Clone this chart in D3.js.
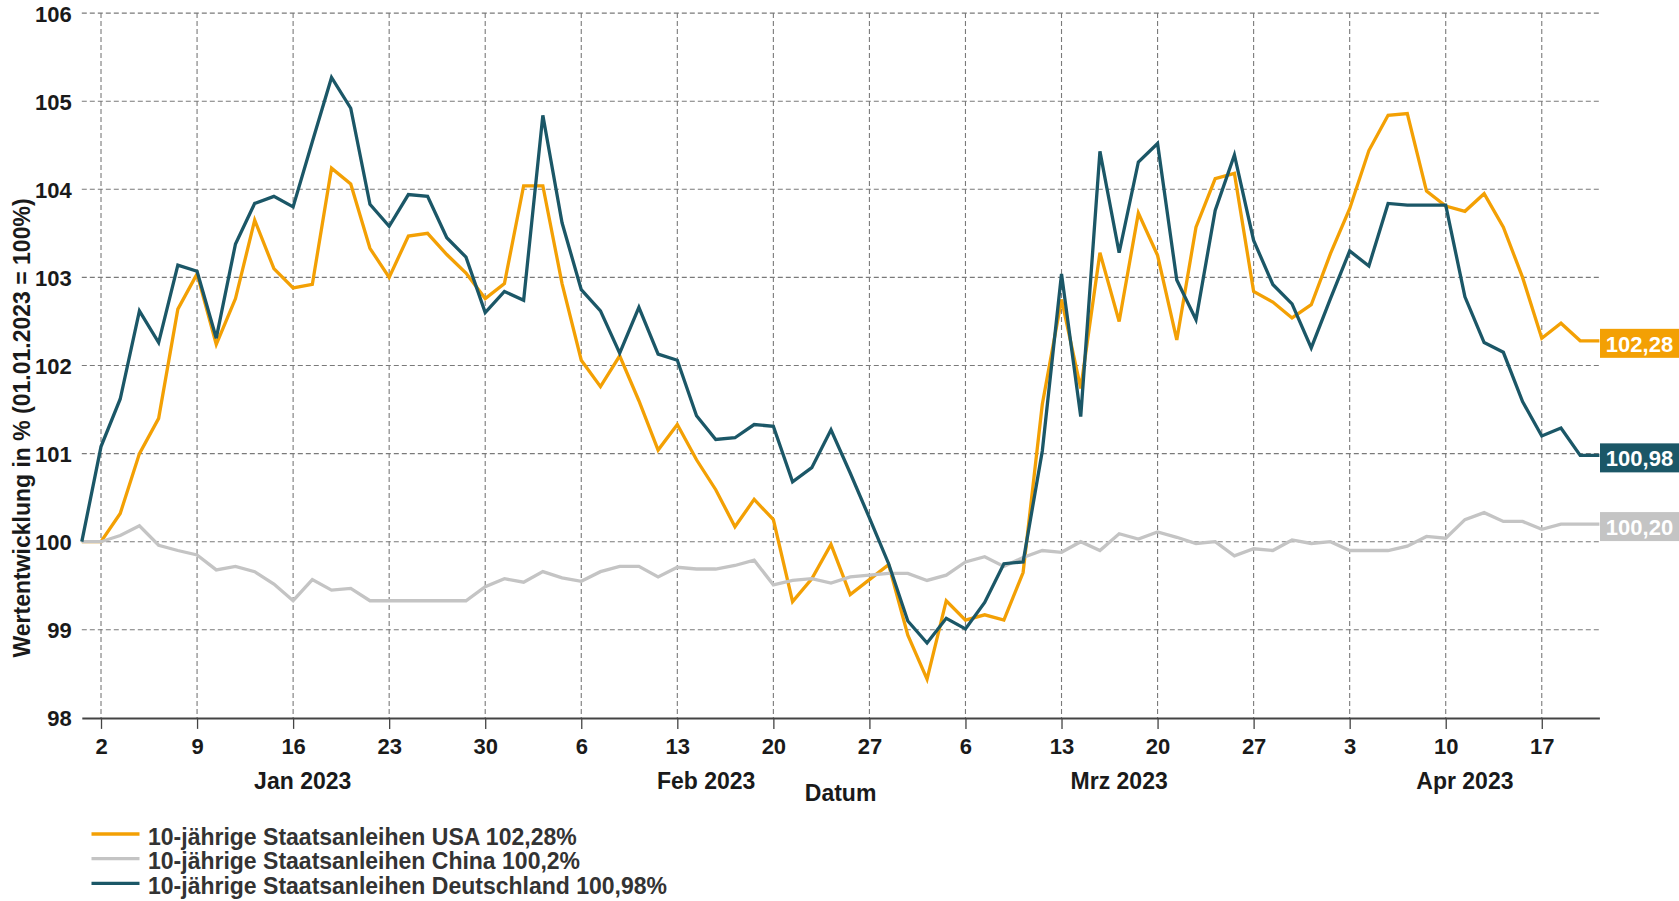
<!DOCTYPE html>
<html><head><meta charset="utf-8">
<script src="https://cdn.jsdelivr.net/npm/d3@7/dist/d3.min.js"></script>
<style>
body{margin:0;background:#fff}
svg{display:block}
text{font-family:"Liberation Sans",Arial,sans-serif;font-weight:bold}
</style>
</head><body>
<svg id="chart" width="1679" height="901"></svg>
<script>
// ---- data ----
const dates = [
"2022-12-30",
"2023-01-02","2023-01-03","2023-01-04","2023-01-05","2023-01-06",
"2023-01-09","2023-01-10","2023-01-11","2023-01-12","2023-01-13",
"2023-01-16","2023-01-17","2023-01-18","2023-01-19","2023-01-20",
"2023-01-23","2023-01-24","2023-01-25","2023-01-26","2023-01-27",
"2023-01-30","2023-01-31","2023-02-01","2023-02-02","2023-02-03",
"2023-02-06","2023-02-07","2023-02-08","2023-02-09","2023-02-10",
"2023-02-13","2023-02-14","2023-02-15","2023-02-16","2023-02-17",
"2023-02-20","2023-02-21","2023-02-22","2023-02-23","2023-02-24",
"2023-02-27","2023-02-28","2023-03-01","2023-03-02","2023-03-03",
"2023-03-06","2023-03-07","2023-03-08","2023-03-09","2023-03-10",
"2023-03-13","2023-03-14","2023-03-15","2023-03-16","2023-03-17",
"2023-03-20","2023-03-21","2023-03-22","2023-03-23","2023-03-24",
"2023-03-27","2023-03-28","2023-03-29","2023-03-30","2023-03-31",
"2023-04-03","2023-04-04","2023-04-05","2023-04-06","2023-04-07",
"2023-04-10","2023-04-11","2023-04-12","2023-04-13","2023-04-14",
"2023-04-17","2023-04-18","2023-04-19","2023-04-20"
];
const usa = [
100.00,
100.00,100.32,101.00,101.40,102.64,
103.04,102.24,102.76,103.65,103.10,
102.88,102.92,104.24,104.06,103.33,
103.00,103.47,103.50,103.26,103.05,
102.76,102.93,104.04,104.04,102.93,
102.06,101.76,102.11,101.60,101.04,
101.33,100.93,100.59,100.17,100.48,
100.25,99.32,99.58,99.97,99.40,
99.57,99.74,98.94,98.44,99.33,
99.11,99.17,99.11,99.65,101.56,
102.75,101.74,103.28,102.50,103.73,
103.25,102.29,103.57,104.12,104.18,
102.84,102.72,102.54,102.69,103.27,
103.78,104.44,104.84,104.86,103.98,
103.81,103.75,103.95,103.57,103.00,
102.31,102.48,102.28,102.28
];
const china = [
100.00,
100.00,100.07,100.18,99.96,99.90,
99.85,99.68,99.72,99.66,99.52,
99.33,99.57,99.45,99.47,99.33,
99.33,99.33,99.33,99.33,99.33,
99.49,99.58,99.54,99.66,99.59,
99.55,99.66,99.72,99.72,99.60,
99.71,99.69,99.69,99.73,99.79,
99.51,99.56,99.58,99.53,99.60,
99.62,99.64,99.64,99.56,99.62,
99.77,99.83,99.72,99.82,99.90,
99.88,100.00,99.90,100.09,100.03,
100.11,100.05,99.98,100.00,99.84,
99.92,99.90,100.02,99.98,100.00,
99.90,99.90,99.90,99.95,100.06,
100.04,100.25,100.33,100.23,100.23,
100.14,100.20,100.20,100.20
];
const germany = [
100.00,
101.08,101.62,102.62,102.26,103.14,
103.07,102.31,103.38,103.84,103.92,
103.80,104.54,105.27,104.92,103.83,
103.58,103.94,103.92,103.45,103.23,
102.60,102.84,102.74,104.84,103.62,
102.86,102.62,102.14,102.66,102.13,
102.06,101.43,101.16,101.18,101.33,
101.31,100.68,100.84,101.27,100.78,
100.27,99.75,99.10,98.85,99.13,
99.01,99.31,99.75,99.77,101.03,
103.04,101.42,104.43,103.28,104.31,
104.52,102.97,102.52,103.76,104.39,
103.42,102.92,102.70,102.20,102.76,
103.30,103.13,103.84,103.82,103.82,
103.82,102.78,102.26,102.15,101.59,
101.20,101.29,100.98,100.98
];
const seriesNames = [
"10-jährige Staatsanleihen USA 102,28%",
"10-jährige Staatsanleihen China 100,2%",
"10-jährige Staatsanleihen Deutschland 100,98%"
];
const endLabels = ["102,28","100,20","100,98"];
const seriesColors = ["#F3A004","#C4C4C4","#1B5767"];
const yTicks = [98,99,100,101,102,103,104,105,106];
// month label, centred between two data dates
const monthLabels = [
  ["Jan 2023","2023-01-16","2023-01-17"],
  ["Feb 2023","2023-02-14","2023-02-15"],
  ["Mrz 2023","2023-03-16","2023-03-16"],
  ["Apr 2023","2023-04-11","2023-04-11"]
];
const yTitle = "Wertentwicklung in % (01.01.2023 = 100%)";
const xTitle = "Datum";

// ---- layout ----
const svg = d3.select("#chart");
svg.append("rect").attr("width",1679).attr("height",901).attr("fill","#fff");
const x = d3.scalePoint().domain(dates).range([81.8, 1599.4]);
const y = d3.scaleLinear().domain([98,106]).range([717.9, 13.1]);
const parse = d3.timeParse("%Y-%m-%d");
const mondays = dates.filter(d => parse(d).getDay() === 1);

// grid
const grid = svg.append("g").attr("stroke","#7a7a7a").attr("stroke-width",1.1).attr("stroke-dasharray","5,3");
grid.selectAll("line.h").data(yTicks.filter(v=>v!==98)).join("line")
  .attr("x1",x.range()[0]).attr("x2",x.range()[1]).attr("y1",d=>y(d)).attr("y2",d=>y(d));
grid.selectAll("line.v").data(mondays).join("line").attr("class","v")
  .attr("x1",d=>x(d)).attr("x2",d=>x(d)).attr("y1",y(106)).attr("y2",y(98));

// y axis labels
const ya = svg.append("g").attr("transform",`translate(${x.range()[0]},0)`)
  .call(d3.axisLeft(y).tickValues(yTicks).tickSize(0).tickPadding(10).tickFormat(d3.format("d")));
ya.select(".domain").remove();
ya.selectAll("text").attr("font-size",22).attr("fill","#1a1a1a").attr("dy","0.36em")
  .style("font-family",'"Liberation Sans",Arial,sans-serif').style("font-weight","bold");

// x axis
const xa = svg.append("g").attr("transform",`translate(0,${y(98)})`)
  .call(d3.axisBottom(x).tickValues(mondays).tickSize(11).tickSizeOuter(0).tickFormat(d=>+d.slice(8)));
xa.select(".domain").attr("stroke","#444").attr("stroke-width",2);
xa.selectAll(".tick line").attr("stroke","#444").attr("stroke-width",1.3);
xa.selectAll("text").attr("y",36.5).attr("dy",0).attr("font-size",22).attr("fill","#1a1a1a")
  .style("font-family",'"Liberation Sans",Arial,sans-serif').style("font-weight","bold");

// month labels
monthLabels.forEach(([label,a,b])=>{
  svg.append("text").attr("x",(x(a)+x(b))/2).attr("y",789).attr("text-anchor","middle")
    .attr("font-size",23).attr("fill","#1a1a1a").text(label);
});
svg.append("text").attr("x",(x.range()[0]+x.range()[1])/2).attr("y",800.5).attr("text-anchor","middle")
  .attr("font-size",23).attr("fill","#1a1a1a").text(xTitle);
svg.append("text").attr("transform","translate(30,428) rotate(-90)").attr("text-anchor","middle")
  .attr("font-size",23).attr("fill","#1a1a1a").text(yTitle);

// lines
const allSeries = [usa, china, germany];
const line = d3.line().x((d,i)=>x(dates[i])).y(d=>y(d));
allSeries.forEach((s,k)=>{
  svg.append("path").datum(s).attr("d",line).attr("fill","none")
    .attr("stroke",seriesColors[k]).attr("stroke-width",3.3).attr("stroke-linejoin","miter");
});

// end labels
allSeries.forEach((s,k)=>{
  const v = s[s.length-1];
  const yy = y(v);
  svg.append("rect").attr("x",1600).attr("y",yy-12).attr("width",79).attr("height",29).attr("fill",seriesColors[k]);
  svg.append("text").attr("x",1639.5).attr("y",yy+11).attr("text-anchor","middle")
    .attr("font-size",22).attr("fill","#fff").text(endLabels[k]);
});

// legend
seriesNames.forEach((n,k)=>{
  const ly = 834 + k*24.7;
  svg.append("line").attr("x1",91.5).attr("x2",139.5).attr("y1",ly).attr("y2",ly)
    .attr("stroke",seriesColors[k]).attr("stroke-width",3.3);
  svg.append("text").attr("x",148).attr("y",844.5 + k*24.7).attr("font-size",23).attr("fill","#333").text(n);
});
</script>
</body></html>
